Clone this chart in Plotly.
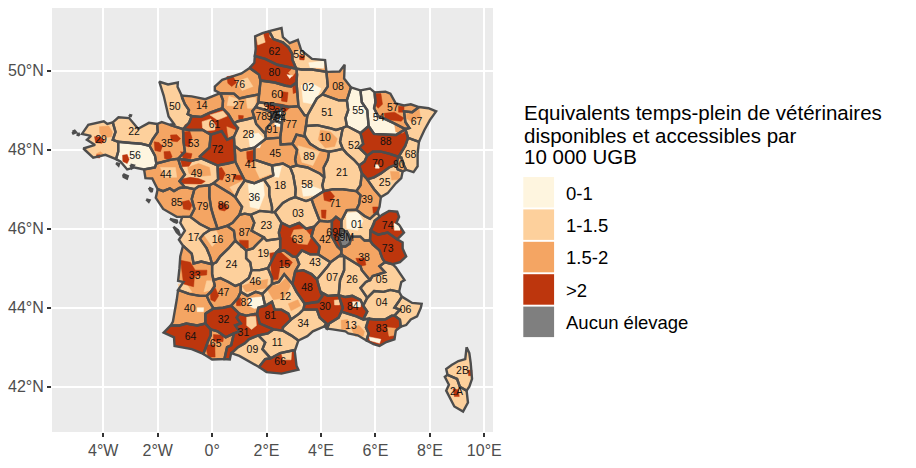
import plotly.graph_objects as go

CLASS_NAMES = ["0-1", "1-1.5", "1.5-2", ">2", "Aucun élevage"]
CLASS_COLORS = ["#FEF5DF", "#FDD09C", "#F4A563", "#BD360D", "#7F7F7F"]
LEGEND_TITLE = ["Equivalents temps-plein de vétérinaires", "disponibles et accessibles par", "10 000 UGB"]
X_TICKS = [-4, -2, 0, 2, 4, 6, 8, 10]
X_LABELS = ["4°W", "2°W", "0°", "2°E", "4°E", "6°E", "8°E", "10°E"]
Y_TICKS = [42, 44, 46, 48, 50]
Y_LABELS = ["42°N", "44°N", "46°N", "48°N", "50°N"]

DEPT_CLASS = {
 "62":3,"59":1,"80":3,"76":2,"02":1,"08":2,"60":2,"27":2,"14":2,"50":1,"22":1,"29":1,"56":0,"35":2,"53":2,"61":3,"72":3,
 "28":1,"78":2,"95":1,"92":1,"75":0,"93":0,"94":0,"91":2,"77":2,"51":1,"55":0,"54":0,"57":2,"67":1,"10":1,"52":1,"88":3,"68":1,"90":2,
 "70":3,"25":1,"39":2,"21":1,"89":2,"45":2,"41":2,"37":2,"49":1,"44":2,"85":2,"79":2,"86":2,"36":1,"18":1,"58":1,"71":2,"03":1,
 "23":1,"87":2,"16":2,"17":1,"24":1,"19":1,"63":3,"42":2,"69D":3,"69M":4,"01":1,"74":3,"73":3,"38":2,"43":1,"15":2,"07":1,"26":1,
 "05":1,"04":1,"06":1,"83":3,"13":1,"84":3,"30":3,"48":3,"12":1,"46":1,"33":2,"40":2,"47":2,"82":2,"81":3,"34":1,"32":3,"31":3,
 "64":3,"65":2,"09":1,"11":1,"66":3,"2B":1,"2A":1,
}

DEPT_POLY = {
"62":[(2.1,51.0),(1.85,50.95),(1.58,50.87),(1.6,50.55),(1.57,50.37),(1.95,50.3),(2.4,50.15),(3.1,50.05),(3.05,50.12),(2.95,50.28),(2.95,50.42),(2.8,50.6),(2.6,50.72),(2.25,50.8)],
"59":[(2.1,51.0),(2.55,51.08),(2.6,50.85),(2.85,50.7),(3.15,50.78),(3.27,50.52),(3.67,50.3),(4.15,50.27),(4.2,49.97),(3.67,50.03),(3.3,50.03),(3.1,50.05),(3.05,50.12),(2.95,50.28),(2.95,50.42),(2.8,50.6),(2.6,50.72),(2.25,50.8)],
"80":[(1.38,50.07),(1.55,50.2),(1.57,50.37),(1.95,50.3),(2.4,50.15),(3.1,50.05),(3.12,49.9),(3.1,49.7),(2.9,49.6),(2.7,49.62),(2.3,49.7),(1.78,49.75),(1.72,49.9)],
"76":[(0.3,49.43),(0.1,49.5),(0.1,49.6),(0.37,49.77),(1.08,49.93),(1.38,50.07),(1.72,49.9),(1.78,49.75),(1.72,49.4),(1.3,49.35),(1.0,49.3),(0.8,49.42)],
"27":[(0.3,49.43),(0.8,49.42),(1.0,49.3),(1.3,49.35),(1.72,49.4),(1.7,49.2),(1.6,49.08),(1.48,48.98),(1.55,48.82),(1.3,48.77),(0.95,48.72),(0.8,48.67),(0.6,48.9),(0.38,49.05),(0.4,49.25)],
"14":[(0.3,49.43),(0.07,49.36),(-0.25,49.28),(-0.75,49.35),(-1.12,49.37),(-1.1,49.3),(-1.0,49.15),(-0.85,49.0),(-0.9,48.9),(-0.75,48.85),(-0.4,48.83),(-0.1,48.93),(0.38,49.05),(0.4,49.25)],
"50":[(-1.12,49.37),(-1.27,49.59),(-1.26,49.7),(-1.62,49.65),(-1.94,49.72),(-1.85,49.5),(-1.78,49.37),(-1.6,48.84),(-1.4,48.65),(-1.55,48.63),(-1.07,48.52),(-0.85,48.68),(-0.75,48.85),(-0.9,48.9),(-0.85,49.0),(-1.0,49.15),(-1.1,49.3)],
"35":[(-1.55,48.63),(-1.85,48.7),(-2.02,48.65),(-2.0,48.45),(-2.2,48.25),(-2.3,48.1),(-2.1,47.85),(-2.05,47.65),(-1.5,47.75),(-1.25,47.77),(-1.0,47.95),(-1.05,48.2),(-1.07,48.52)],
"22":[(-2.02,48.65),(-2.32,48.68),(-2.72,48.53),(-3.05,48.8),(-3.44,48.82),(-3.65,48.69),(-3.55,48.45),(-3.65,48.25),(-3.45,48.2),(-3.0,48.17),(-2.6,48.15),(-2.3,48.1),(-2.2,48.25),(-2.0,48.45)],
"29":[(-3.65,48.69),(-3.85,48.65),(-3.98,48.72),(-4.55,48.63),(-4.78,48.4),(-4.45,48.35),(-4.6,48.25),(-4.3,48.12),(-4.73,48.03),(-4.37,47.8),(-3.92,47.87),(-3.53,47.76),(-3.45,47.95),(-3.45,48.2),(-3.65,48.25),(-3.55,48.45)],
"56":[(-3.53,47.76),(-3.37,47.7),(-3.12,47.5),(-2.85,47.55),(-2.5,47.5),(-2.1,47.55),(-2.05,47.65),(-2.1,47.85),(-2.3,48.1),(-2.6,48.15),(-3.0,48.17),(-3.45,48.2),(-3.45,47.95)],
"44":[(-2.5,47.5),(-2.45,47.28),(-2.2,47.27),(-2.1,47.12),(-2.0,47.0),(-1.8,46.95),(-1.55,47.02),(-1.4,46.95),(-1.2,47.03),(-1.0,47.05),(-1.2,47.2),(-1.0,47.37),(-1.15,47.55),(-1.25,47.77),(-1.5,47.75),(-2.05,47.65),(-2.1,47.55)],
"49":[(-1.25,47.77),(-0.75,47.72),(-0.4,47.78),(0.2,47.6),(0.22,47.25),(0.05,47.15),(-0.1,47.1),(-0.5,47.07),(-0.65,47.0),(-1.0,47.05),(-1.2,47.2),(-1.0,47.37),(-1.15,47.55)],
"53":[(-1.07,48.52),(-0.85,48.5),(-0.35,48.5),(-0.05,48.38),(-0.1,48.05),(-0.45,47.83),(-0.4,47.78),(-0.75,47.72),(-1.25,47.77),(-1.0,47.95),(-1.05,48.2)],
"72":[(-0.05,48.38),(0.35,48.47),(0.55,48.25),(0.8,48.33),(0.82,48.1),(0.85,47.85),(0.85,47.7),(0.6,47.65),(0.2,47.6),(-0.4,47.78),(-0.45,47.83),(-0.1,48.05)],
"61":[(-1.07,48.52),(-0.85,48.68),(-0.75,48.85),(-0.4,48.83),(-0.1,48.93),(0.38,49.05),(0.6,48.9),(0.8,48.67),(0.95,48.55),(0.8,48.33),(0.55,48.25),(0.35,48.47),(-0.05,48.38),(-0.35,48.5),(-0.85,48.5)],
"28":[(0.8,48.67),(0.95,48.72),(1.3,48.77),(1.55,48.82),(1.62,48.65),(1.95,48.4),(1.98,48.28),(1.55,48.05),(1.05,47.98),(0.82,48.1),(0.8,48.33),(0.95,48.55)],
"41":[(0.82,48.1),(1.05,47.98),(1.55,48.05),(1.55,47.75),(2.2,47.6),(2.25,47.35),(1.9,47.25),(1.55,47.15),(1.2,47.22),(1.05,47.42),(0.85,47.7),(0.85,47.85)],
"37":[(0.2,47.6),(0.6,47.65),(0.85,47.7),(1.05,47.42),(1.2,47.22),(0.98,47.0),(0.85,46.8),(0.65,46.9),(0.3,47.05),(0.05,47.15),(0.22,47.25)],
"86":[(0.05,47.15),(0.3,47.05),(0.65,46.9),(0.85,46.8),(1.1,46.55),(1.0,46.35),(0.75,46.15),(0.55,46.07),(0.2,46.0),(0.05,46.3),(-0.03,46.5),(-0.1,46.8),(-0.1,47.1)],
"79":[(-0.1,47.1),(-0.5,47.07),(-0.65,47.0),(-0.75,46.75),(-0.65,46.5),(-0.8,46.3),(-0.45,46.12),(-0.05,45.98),(0.2,46.0),(0.05,46.3),(-0.03,46.5),(-0.1,46.8)],
"85":[(-2.0,47.0),(-2.07,46.78),(-1.8,46.5),(-1.3,46.3),(-1.1,46.3),(-0.8,46.3),(-0.65,46.5),(-0.75,46.75),(-0.65,47.0),(-1.0,47.05),(-1.2,47.03),(-1.4,46.95),(-1.55,47.02),(-1.8,46.95)],
"17":[(-1.1,46.3),(-1.17,46.15),(-1.0,45.95),(-1.22,45.72),(-1.07,45.57),(-0.75,45.37),(-0.68,45.12),(-0.4,45.17),(0.0,45.1),(-0.08,45.3),(-0.2,45.5),(-0.45,45.75),(-0.3,45.87),(-0.05,45.98),(-0.45,46.12),(-0.8,46.3)],
"16":[(-0.05,45.98),(0.2,46.0),(0.55,46.07),(0.8,45.95),(0.85,45.7),(0.6,45.5),(0.3,45.3),(0.15,45.15),(0.0,45.1),(-0.08,45.3),(-0.2,45.5),(-0.45,45.75),(-0.3,45.87)],
"87":[(0.8,45.95),(0.55,46.07),(0.75,46.15),(1.0,46.35),(1.2,46.38),(1.42,46.35),(1.55,46.15),(1.45,45.95),(1.9,45.78),(1.7,45.65),(1.5,45.5),(1.25,45.45),(1.0,45.6),(0.85,45.7)],
"36":[(1.2,47.22),(1.55,47.15),(1.9,47.25),(2.1,47.05),(2.1,46.85),(2.2,46.55),(2.2,46.42),(1.75,46.45),(1.42,46.35),(1.2,46.38),(1.0,46.35),(1.1,46.55),(0.85,46.8),(0.98,47.0)],
"18":[(2.25,47.35),(2.2,47.6),(2.6,47.65),(2.87,47.55),(2.98,47.35),(3.07,47.0),(3.05,46.8),(2.85,46.75),(2.6,46.65),(2.3,46.42),(2.2,46.42),(2.2,46.55),(2.1,46.85),(2.1,47.05),(1.9,47.25)],
"45":[(1.55,48.05),(1.98,48.28),(2.4,48.3),(2.5,48.3),(2.52,48.13),(2.95,48.15),(3.12,48.0),(3.05,47.75),(3.1,47.6),(2.87,47.55),(2.6,47.65),(2.2,47.6),(1.55,47.75)],
"89":[(2.95,48.15),(3.1,48.38),(3.42,48.33),(3.6,48.15),(3.95,48.0),(4.3,47.95),(4.25,47.75),(4.1,47.55),(4.12,47.3),(3.95,47.4),(3.5,47.55),(3.1,47.6),(3.05,47.75),(3.12,48.0)],
"58":[(2.87,47.55),(3.1,47.6),(3.5,47.55),(3.95,47.4),(4.12,47.3),(4.05,47.1),(4.1,46.95),(3.65,46.75),(3.45,46.7),(3.05,46.8),(3.07,47.0),(2.98,47.35)],
"21":[(4.3,47.95),(4.5,47.97),(4.8,48.02),(4.95,47.9),(5.2,47.75),(5.4,47.6),(5.5,47.4),(5.45,47.1),(5.3,46.95),(5.1,46.97),(4.8,47.0),(4.45,47.0),(4.1,46.95),(4.05,47.1),(4.12,47.3),(4.1,47.55),(4.25,47.75)],
"71":[(3.65,46.75),(4.1,46.95),(4.45,47.0),(4.8,47.0),(5.1,46.97),(5.3,46.95),(5.45,46.85),(5.4,46.62),(5.3,46.48),(4.95,46.47),(4.75,46.2),(4.55,46.3),(4.4,46.2),(4.25,46.18),(3.95,46.2),(3.9,46.3),(3.75,46.55)],
"03":[(2.3,46.42),(2.6,46.65),(2.85,46.75),(3.05,46.8),(3.45,46.7),(3.65,46.75),(3.75,46.55),(3.9,46.3),(3.95,46.2),(3.75,46.05),(3.45,46.0),(3.2,46.15),(2.85,46.05),(2.55,46.15)],
"23":[(1.42,46.35),(1.75,46.45),(2.2,46.42),(2.3,46.42),(2.55,46.15),(2.45,45.9),(2.5,45.75),(2.0,45.7),(1.9,45.78),(1.45,45.95),(1.55,46.15)],
"19":[(1.7,45.65),(1.9,45.78),(2.0,45.7),(2.5,45.75),(2.5,45.5),(2.35,45.4),(2.2,45.2),(2.05,45.0),(1.75,44.95),(1.45,44.95),(1.4,45.15),(1.25,45.25),(1.25,45.45),(1.5,45.5)],
"24":[(0.0,45.1),(0.15,45.15),(0.3,45.3),(0.6,45.5),(0.85,45.7),(1.0,45.6),(1.25,45.45),(1.25,45.25),(1.4,45.15),(1.45,44.95),(1.35,44.75),(1.05,44.6),(0.85,44.55),(0.6,44.65),(0.3,44.75),(0.05,44.7),(0.0,44.85)],
"33":[(-1.07,45.57),(-1.17,45.3),(-1.2,45.0),(-1.25,44.68),(-1.05,44.65),(-1.25,44.45),(-0.85,44.35),(-0.45,44.3),(-0.2,44.3),(-0.05,44.4),(0.1,44.55),(0.05,44.7),(0.0,44.85),(0.0,45.1),(-0.4,45.17),(-0.68,45.12),(-0.75,45.37)],
"40":[(-1.25,44.45),(-1.3,44.2),(-1.44,43.65),(-1.52,43.55),(-1.2,43.55),(-0.95,43.6),(-0.55,43.55),(-0.25,43.6),(-0.25,43.85),(0.05,43.98),(-0.1,44.15),(-0.2,44.3),(-0.45,44.3),(-0.85,44.35)],
"47":[(-0.1,44.15),(-0.2,44.3),(-0.05,44.4),(0.1,44.55),(0.05,44.7),(0.3,44.75),(0.6,44.65),(0.85,44.55),(1.05,44.6),(1.05,44.4),(0.95,44.25),(0.7,44.05),(0.4,44.0),(0.05,43.98)],
"46":[(1.05,44.6),(1.35,44.75),(1.45,44.95),(1.75,44.95),(2.05,45.0),(2.2,44.75),(2.2,44.6),(2.05,44.5),(1.85,44.35),(1.6,44.4),(1.3,44.3),(1.05,44.4)],
"82":[(0.7,44.05),(0.95,44.25),(1.05,44.4),(1.3,44.3),(1.6,44.4),(1.85,44.35),(1.95,44.05),(1.7,44.0),(1.65,43.85),(1.25,43.8),(1.0,43.85),(0.85,43.95)],
"81":[(1.65,43.85),(1.7,44.0),(1.95,44.05),(2.2,44.15),(2.3,43.95),(2.55,43.95),(2.8,43.85),(2.9,43.7),(2.6,43.5),(2.6,43.42),(2.25,43.45),(1.75,43.6)],
"31":[(1.25,43.8),(1.65,43.85),(1.75,43.6),(2.25,43.45),(2.05,43.35),(1.7,43.3),(1.5,43.25),(1.35,43.2),(1.2,43.1),(0.95,43.0),(0.75,42.87),(0.7,42.85),(0.65,42.69),(0.45,42.7),(0.55,43.0),(0.7,43.05),(0.75,43.2),(0.8,43.35),(1.0,43.4),(0.85,43.55),(1.05,43.6),(0.9,43.75),(1.0,43.85)],
"32":[(-0.25,43.85),(0.05,43.98),(0.4,44.0),(0.7,44.05),(0.85,43.95),(1.0,43.85),(0.9,43.75),(1.05,43.6),(0.85,43.55),(1.0,43.4),(0.8,43.35),(0.5,43.25),(0.2,43.4),(-0.05,43.45),(-0.25,43.6)],
"64":[(-1.52,43.55),(-1.78,43.37),(-1.4,43.25),(-1.38,43.03),(-0.75,42.95),(-0.32,42.83),(-0.15,43.15),(-0.05,43.3),(-0.05,43.45),(-0.25,43.6),(-0.55,43.55),(-0.95,43.6),(-1.2,43.55)],
"65":[(-0.05,43.45),(0.2,43.4),(0.5,43.25),(0.8,43.35),(0.75,43.2),(0.7,43.05),(0.55,43.0),(0.45,42.7),(0.0,42.69),(-0.32,42.83),(-0.15,43.15),(-0.05,43.3)],
"09":[(0.7,42.85),(0.75,42.87),(0.95,43.0),(1.2,43.1),(1.35,43.2),(1.5,43.25),(1.7,43.3),(1.95,43.12),(1.85,42.95),(2.15,42.72),(1.95,42.7),(1.72,42.5),(1.45,42.6),(1.0,42.78)],
"66":[(1.72,42.5),(1.95,42.7),(2.15,42.72),(2.5,42.85),(3.03,42.93),(3.05,42.8),(3.1,42.53),(3.17,42.43),(2.55,42.33),(2.0,42.37)],
"11":[(1.7,43.3),(2.05,43.35),(2.25,43.45),(2.6,43.42),(2.9,43.3),(3.17,43.17),(3.05,42.93),(3.03,42.93),(2.5,42.85),(2.15,42.72),(1.85,42.95),(1.95,43.12)],
"34":[(3.17,43.17),(3.5,43.28),(3.7,43.4),(4.13,43.53),(4.2,43.6),(3.95,43.75),(3.85,43.95),(3.35,43.95),(3.2,43.85),(2.9,43.7),(2.6,43.5),(2.6,43.42),(2.9,43.3)],
"12":[(1.85,44.35),(2.05,44.5),(2.2,44.6),(2.45,44.65),(2.65,44.85),(2.95,44.6),(3.1,44.4),(3.3,44.2),(3.4,44.1),(3.35,43.95),(3.2,43.85),(2.9,43.7),(2.8,43.85),(2.55,43.95),(2.3,43.95),(2.2,44.15),(1.95,44.05)],
"15":[(2.05,45.0),(2.2,45.2),(2.35,45.4),(2.65,45.45),(2.95,45.3),(3.1,45.28),(3.2,45.1),(3.05,44.92),(2.95,44.6),(2.65,44.85),(2.45,44.65),(2.2,44.6),(2.2,44.75)],
"48":[(3.05,44.92),(3.35,44.95),(3.65,44.85),(3.85,44.72),(3.98,44.4),(4.05,44.3),(3.9,44.15),(3.4,44.1),(3.3,44.2),(3.1,44.4),(2.95,44.6)],
"63":[(2.45,45.9),(2.55,46.15),(2.85,46.05),(3.2,46.15),(3.45,46.0),(3.75,46.05),(3.65,45.8),(3.95,45.55),(3.9,45.35),(3.6,45.35),(3.3,45.45),(3.1,45.28),(2.95,45.3),(2.65,45.45),(2.35,45.4),(2.5,45.5),(2.5,45.75)],
"42":[(3.75,46.05),(3.95,46.2),(4.25,46.18),(4.4,46.2),(4.4,45.95),(4.4,45.8),(4.6,45.55),(4.75,45.45),(4.75,45.37),(4.65,45.3),(4.45,45.2),(4.35,45.15),(3.9,45.35),(3.95,45.55),(3.65,45.8)],
"69D":[(4.4,46.2),(4.55,46.3),(4.75,46.2),(4.75,45.95),(4.65,45.75),(4.75,45.55),(4.75,45.45),(4.6,45.55),(4.4,45.8),(4.4,45.95)],
"69M":[(4.75,45.95),(4.95,45.93),(5.1,45.75),(5.05,45.62),(4.9,45.55),(4.75,45.55),(4.65,45.75)],
"01":[(4.75,46.2),(4.95,46.47),(5.3,46.48),(5.6,46.32),(5.8,46.25),(6.07,46.42),(6.15,46.3),(5.97,46.2),(5.95,46.13),(5.82,45.95),(5.8,45.7),(5.6,45.7),(5.45,45.8),(5.15,45.8),(5.1,45.75),(4.95,45.93),(4.75,45.95)],
"39":[(5.3,46.95),(5.45,47.1),(5.5,47.4),(5.7,47.25),(5.95,47.0),(6.2,46.8),(6.15,46.55),(6.07,46.42),(5.8,46.25),(5.6,46.32),(5.3,46.48),(5.4,46.62),(5.45,46.85)],
"38":[(5.1,45.75),(5.15,45.8),(5.45,45.8),(5.6,45.7),(5.8,45.7),(5.9,45.6),(6.15,45.45),(6.25,45.25),(6.35,45.15),(6.15,45.05),(6.35,44.9),(5.9,44.8),(5.8,44.7),(5.5,44.95),(5.45,45.05),(5.2,45.15),(4.85,45.3),(4.75,45.37),(4.75,45.45),(4.75,45.55),(4.9,45.55),(5.05,45.62)],
"73":[(5.8,45.7),(5.82,45.95),(6.1,45.85),(6.45,45.9),(6.8,45.73),(7.0,45.65),(7.0,45.5),(7.13,45.3),(6.9,45.15),(6.63,45.1),(6.35,45.15),(6.25,45.25),(6.15,45.45),(5.9,45.6)],
"74":[(5.82,45.95),(5.95,46.13),(5.97,46.2),(6.15,46.3),(6.25,46.35),(6.5,46.45),(6.8,46.43),(6.87,46.3),(6.77,46.15),(6.87,46.1),(7.05,45.9),(6.8,45.73),(6.45,45.9),(6.1,45.85)],
"05":[(6.35,45.15),(6.63,45.1),(6.75,45.02),(7.07,44.7),(6.95,44.65),(6.87,44.4),(6.55,44.45),(6.3,44.4),(5.95,44.42),(5.7,44.25),(5.45,44.5),(5.65,44.65),(5.8,44.7),(5.9,44.8),(6.35,44.9),(6.15,45.05)],
"04":[(5.7,44.25),(5.95,44.42),(6.3,44.4),(6.55,44.45),(6.87,44.4),(6.97,44.28),(6.85,44.15),(6.7,44.0),(6.9,43.95),(6.7,43.8),(6.6,43.8),(6.35,43.7),(6.0,43.7),(5.75,43.72),(5.55,43.7),(5.7,43.9),(5.55,44.05)],
"06":[(6.97,44.28),(7.35,44.12),(7.7,44.1),(7.67,44.0),(7.53,43.78),(7.3,43.7),(7.13,43.56),(6.93,43.52),(6.9,43.7),(6.7,43.8),(6.9,43.95),(6.7,44.0),(6.85,44.15)],
"83":[(5.75,43.72),(6.0,43.7),(6.35,43.7),(6.6,43.8),(6.7,43.8),(6.9,43.7),(6.93,43.52),(6.75,43.42),(6.7,43.2),(6.4,43.13),(6.15,43.03),(5.93,43.08),(5.67,43.17),(5.75,43.35),(5.65,43.5)],
"13":[(4.3,43.6),(4.65,43.75),(4.75,43.9),(5.3,43.78),(5.55,43.7),(5.75,43.72),(5.65,43.5),(5.75,43.35),(5.67,43.17),(5.35,43.3),(5.0,43.35),(4.9,43.4),(4.43,43.45),(4.22,43.47)],
"30":[(3.35,43.95),(3.4,44.1),(3.9,44.15),(4.05,44.3),(3.98,44.4),(4.25,44.3),(4.65,44.32),(4.7,44.2),(4.8,44.0),(4.75,43.9),(4.65,43.75),(4.3,43.6),(4.22,43.47),(4.13,43.53),(4.2,43.6),(3.95,43.75),(3.85,43.95)],
"07":[(3.98,44.4),(3.85,44.72),(4.25,45.05),(4.35,45.15),(4.45,45.2),(4.65,45.3),(4.85,45.3),(4.85,44.95),(4.7,44.7),(4.65,44.32),(4.25,44.3)],
"43":[(3.1,45.28),(3.3,45.45),(3.6,45.35),(3.9,45.35),(4.35,45.15),(4.25,45.05),(3.85,44.72),(3.65,44.85),(3.35,44.95),(3.05,44.92),(3.2,45.1)],
"26":[(4.85,45.3),(5.2,45.15),(5.45,45.05),(5.5,44.95),(5.8,44.7),(5.65,44.65),(5.45,44.5),(5.7,44.25),(5.55,44.05),(5.45,44.2),(5.15,44.3),(4.9,44.27),(4.65,44.32),(4.7,44.7),(4.85,44.95)],
"84":[(4.65,44.32),(4.9,44.27),(5.15,44.3),(5.45,44.2),(5.55,44.05),(5.7,43.9),(5.55,43.7),(5.3,43.78),(4.75,43.9),(4.8,44.0),(4.7,44.2)],
"02":[(3.1,50.05),(3.3,50.03),(3.67,50.03),(4.2,49.97),(4.25,49.6),(4.05,49.4),(3.85,49.3),(3.65,49.05),(3.5,48.87),(3.4,48.87),(3.17,49.1),(3.15,49.3),(3.1,49.7),(3.12,49.9)],
"60":[(1.78,49.75),(2.3,49.7),(2.7,49.62),(2.9,49.6),(3.1,49.7),(3.15,49.3),(3.17,49.1),(2.8,49.08),(2.55,49.12),(2.3,49.15),(1.7,49.2),(1.72,49.4)],
"95":[(1.7,49.2),(2.3,49.15),(2.55,49.12),(2.55,49.0),(2.3,48.95),(2.2,48.9),(2.1,48.98),(1.6,49.08)],
"78":[(1.6,49.08),(2.1,48.98),(2.2,48.9),(2.15,48.75),(2.2,48.7),(2.0,48.55),(1.95,48.4),(1.62,48.65),(1.55,48.82),(1.48,48.98)],
"92":[(2.2,48.9),(2.3,48.95),(2.32,48.9),(2.25,48.83),(2.32,48.82),(2.3,48.73),(2.2,48.7),(2.15,48.75)],
"75":[(2.25,48.9),(2.32,48.9),(2.42,48.88),(2.42,48.84),(2.32,48.82),(2.25,48.83)],
"93":[(2.3,48.95),(2.55,49.0),(2.6,48.9),(2.55,48.85),(2.42,48.88),(2.32,48.9)],
"94":[(2.32,48.82),(2.42,48.84),(2.55,48.85),(2.6,48.8),(2.55,48.68),(2.35,48.72),(2.3,48.73)],
"91":[(1.95,48.4),(2.0,48.55),(2.2,48.7),(2.3,48.73),(2.35,48.72),(2.55,48.68),(2.55,48.55),(2.5,48.3),(2.4,48.3),(1.98,48.28)],
"77":[(2.55,49.12),(2.8,49.08),(3.17,49.1),(3.4,48.87),(3.5,48.87),(3.45,48.6),(3.4,48.4),(3.42,48.33),(3.1,48.38),(2.95,48.15),(2.52,48.13),(2.5,48.3),(2.55,48.55),(2.55,48.68),(2.6,48.8),(2.55,48.85),(2.6,48.9),(2.55,49.0)],
"08":[(4.2,49.97),(4.68,49.98),(4.87,50.15),(4.85,49.8),(5.1,49.58),(5.0,49.35),(4.95,49.25),(4.65,49.25),(4.05,49.4),(4.25,49.6)],
"51":[(4.05,49.4),(4.65,49.25),(4.95,49.25),(5.0,49.0),(4.9,48.8),(4.95,48.6),(4.8,48.55),(4.55,48.5),(4.3,48.55),(3.85,48.62),(3.45,48.6),(3.5,48.87),(3.65,49.05),(3.85,49.3)],
"55":[(5.1,49.58),(5.45,49.5),(5.5,49.2),(5.7,49.0),(5.75,48.6),(5.45,48.42),(4.95,48.6),(4.9,48.8),(5.0,49.0),(4.95,49.25),(5.0,49.35)],
"54":[(5.45,49.5),(5.8,49.55),(5.97,49.45),(6.0,49.2),(5.95,49.05),(6.1,48.85),(6.3,48.8),(6.6,48.7),(7.1,48.52),(6.75,48.37),(6.3,48.38),(5.95,48.4),(5.75,48.6),(5.7,49.0),(5.5,49.2)],
"57":[(5.97,49.45),(6.37,49.47),(6.55,49.42),(6.75,49.17),(7.05,49.12),(7.3,49.15),(7.6,49.08),(7.35,48.95),(7.05,48.97),(7.1,48.7),(7.25,48.55),(7.1,48.52),(6.6,48.7),(6.3,48.8),(6.1,48.85),(5.95,49.05),(6.0,49.2)],
"67":[(7.6,49.08),(7.95,49.05),(8.23,48.97),(8.0,48.75),(7.8,48.5),(7.6,48.2),(7.2,48.3),(7.1,48.52),(7.25,48.55),(7.1,48.7),(7.05,48.97),(7.35,48.95)],
"68":[(7.2,48.3),(7.6,48.2),(7.55,47.9),(7.55,47.58),(7.4,47.43),(7.13,47.49),(7.05,47.6),(6.95,47.8),(6.85,47.82),(7.0,48.0),(7.1,48.1)],
"90":[(6.85,47.82),(6.95,47.8),(7.05,47.6),(7.13,47.49),(7.0,47.45),(6.82,47.5),(6.75,47.62)],
"88":[(5.45,48.42),(5.75,48.6),(5.95,48.4),(6.3,48.38),(6.75,48.37),(7.1,48.52),(7.2,48.3),(7.1,48.1),(7.0,48.0),(6.85,47.82),(6.5,47.9),(6.2,47.95),(5.9,47.95),(5.7,47.85),(5.4,48.05),(5.55,48.15)],
"52":[(4.95,48.6),(5.45,48.42),(5.55,48.15),(5.4,48.05),(5.7,47.85),(5.6,47.7),(5.4,47.6),(5.2,47.75),(4.95,47.9),(4.8,48.02),(4.7,48.2),(4.8,48.55)],
"10":[(3.45,48.6),(3.85,48.62),(4.3,48.55),(4.55,48.5),(4.8,48.55),(4.7,48.2),(4.8,48.02),(4.5,47.97),(4.3,47.95),(3.95,48.0),(3.6,48.15),(3.42,48.33),(3.4,48.4)],
"70":[(5.4,47.6),(5.6,47.7),(5.7,47.85),(5.9,47.95),(6.2,47.95),(6.5,47.9),(6.85,47.82),(6.75,47.62),(6.5,47.55),(6.2,47.4),(5.95,47.3),(5.7,47.25),(5.5,47.4)],
"25":[(5.7,47.25),(5.95,47.3),(6.2,47.4),(6.5,47.55),(6.75,47.62),(6.82,47.5),(7.0,47.45),(6.95,47.28),(6.75,47.15),(6.45,46.9),(6.2,46.8),(5.95,47.0)],
"2B":[(9.35,43.0),(9.45,42.85),(9.5,42.6),(9.55,42.2),(9.45,42.0),(9.35,41.9),(9.1,42.0),(9.0,42.2),(8.65,42.3),(8.6,42.45),(8.8,42.55),(9.05,42.65),(9.3,42.7),(9.32,42.95)],
"2A":[(8.65,42.3),(9.0,42.2),(9.1,42.0),(9.35,41.9),(9.4,41.6),(9.22,41.37),(8.9,41.5),(8.75,41.7),(8.6,41.9),(8.7,42.05),(8.55,42.25)],
}

ISLANDS_CLASS1 = [
 [(-5.13,48.45),(-5.05,48.48),(-5.0,48.44),(-5.1,48.41)],
 [(-4.98,48.38),(-4.9,48.4),(-4.88,48.36)],
 [(-3.27,47.38),(-3.1,47.33),(-3.13,47.27),(-3.25,47.31)],
 [(-3.53,47.66),(-3.42,47.64),(-3.44,47.6)],
 [(-2.32,47.04),(-2.2,47.0),(-2.22,46.93),(-2.28,46.97)],
 [(-2.42,46.74),(-2.3,46.72),(-2.33,46.68)],
 [(-1.55,46.25),(-1.3,46.21),(-1.28,46.15),(-1.4,46.18)],
 [(-1.42,46.05),(-1.25,45.96),(-1.18,45.83),(-1.3,45.91)],
 [(-3.0,47.62),(-2.88,47.6),(-2.95,47.54)],
 [(-3.05,48.88),(-2.98,48.87),(-3.0,48.83)],
]

PATCHES_15 = [
 [(-4.14,48.58),(-3.8,48.6),(-3.66,48.45),(-3.7,48.33),(-4.0,48.3),(-4.13,48.42)],
 [(-4.25,47.9),(-4.1,47.95),(-3.98,47.88),(-4.15,47.83)],
 [(3.0,45.97),(3.4,46.0),(3.64,45.8),(3.5,45.6),(3.15,45.62),(2.9,45.8)],
 [(2.7,45.42),(2.95,45.28),(3.12,45.25),(3.05,45.02),(2.75,45.1),(2.55,45.28)],
 [(3.98,48.5),(4.35,48.45),(4.6,48.28),(4.5,48.08),(4.15,48.05),(3.9,48.25)],
 [(1.1,44.55),(1.5,44.65),(2.05,44.72),(2.0,44.5),(1.6,44.45),(1.25,44.4)],
 [(4.74,43.68),(4.98,43.7),(5.0,43.45),(4.75,43.45)],
 [(5.1,43.5),(5.4,43.55),(5.6,43.4),(5.55,43.28),(5.25,43.28)],
 [(1.95,44.55),(2.45,44.58),(2.75,44.78),(2.88,44.55),(2.65,44.25),(2.25,44.2)],
 [(2.8,44.1),(3.15,44.2),(3.25,44.05),(2.9,43.92)],
 [(2.8,49.95),(3.05,50.12),(3.1,50.0),(2.95,49.85)],
 [(2.79,50.65),(3.1,50.77),(3.2,50.55),(3.0,50.45),(2.85,50.5)],
 [(3.7,50.1),(4.12,50.22),(4.15,50.0),(3.8,50.05)],
 [(6.55,47.45),(6.87,47.44),(6.9,47.25),(6.6,47.23)],
 [(7.17,49.0),(7.6,49.05),(7.66,48.8),(7.3,48.72),(7.12,48.8)],
 [(6.68,48.72),(7.08,48.55),(7.23,48.58),(7.0,48.42),(6.75,48.45)],
 [(0.54,48.58),(0.85,48.5),(0.85,48.33),(0.6,48.3)],
 [(-0.9,47.55),(-0.5,47.65),(-0.1,47.55),(-0.05,47.35),(-0.5,47.32),(-0.85,47.4)],
 [(6.44,43.5),(6.74,43.48),(6.72,43.3),(6.5,43.28)],
 [(0.05,45.2),(0.2,45.25),(0.25,45.35)],
 [(-0.02,44.9),(-0.45,44.9),(-0.55,45.1),(-0.1,45.1)],
 [(1.05,46.0),(1.5,46.1),(1.42,45.95),(1.1,45.9)],
 [(4.95,45.5),(5.3,45.2),(5.7,45.45),(5.55,45.62),(5.1,45.7)],
 [(4.62,49.45),(4.9,49.3),(4.75,49.28)],
]
PATCHES_1 = [
 [(-0.37,48.71),(-0.05,48.78),(0.12,48.62),(0.1,48.5),(-0.2,48.48),(-0.35,48.55)],
 [(-0.08,48.88),(0.4,48.98),(0.55,48.85),(0.2,48.75)],
 [(2.12,51.0),(2.28,50.95),(2.49,50.8),(2.3,50.78),(2.12,50.85)],
 [(1.62,50.85),(1.88,50.92),(1.95,50.72),(1.68,50.65)],
 [(0.88,49.72),(1.3,49.82),(1.5,49.6),(1.1,49.5)],
 [(0.62,49.35),(0.95,49.28),(0.9,49.1),(0.55,49.12)],
 [(1.25,49.3),(1.6,49.32),(1.6,49.05),(1.3,49.05)],
 [(3.15,48.1),(3.95,47.95),(3.7,47.6),(3.3,47.68)],
 [(-0.35,45.9),(0.15,45.95),(0.3,45.75),(0.0,45.55)],
 [(1.6,47.75),(2.15,47.62),(2.2,47.4),(1.75,47.28),(1.6,47.5)],
 [(0.65,47.05),(1.1,47.2),(0.95,47.0),(0.85,46.85)],
 [(3.45,50.35),(3.9,50.25),(3.95,50.1),(3.5,50.1)],
 [(-1.9,47.55),(-1.35,47.55),(-1.3,47.3),(-1.75,47.3)],
 [(5.25,43.75),(5.55,43.68),(5.3,43.55)],
 [(-1.25,44.6),(-0.95,44.62),(-0.75,44.4),(-1.2,44.45)],
 [(-0.2,44.68),(0.05,44.68),(-0.05,44.45),(-0.3,44.4)],
 [(3.5,45.3),(4.1,45.3),(4.0,45.1),(3.6,45.05)],
]
PATCHES_GT2 = [
 [(-1.04,48.45),(-0.82,48.47),(-0.74,48.3),(-0.85,48.07),(-1.0,48.1),(-1.02,48.3)],
 [(-1.16,47.95),(-0.95,47.92),(-0.74,47.9),(-0.78,47.78),(-1.05,47.76)],
 [(-1.16,47.74),(-0.95,47.72),(-0.74,47.7),(-0.85,47.58),(-1.1,47.57)],
 [(-1.16,47.25),(-0.8,47.3),(-0.5,47.27),(-0.25,47.2),(-0.4,47.13),(-0.85,47.14),(-1.12,47.14)],
 [(0.18,47.52),(0.35,47.55),(0.48,47.4),(0.38,47.23),(0.22,47.25)],
 [(0.78,47.36),(1.05,47.35),(1.21,47.27),(1.0,47.23),(0.8,47.26)],
 [(1.27,47.95),(1.5,47.98),(1.51,47.72),(1.35,47.65),(1.28,47.78)],
 [(0.54,49.85),(0.75,49.87),(0.9,49.7),(0.72,49.6),(0.58,49.68)],
 [(0.97,48.87),(1.15,48.86),(1.13,48.76),(0.98,48.77)],
 [(-1.0,48.63),(-0.88,48.65),(-0.9,48.52),(-1.02,48.54)],
 [(-4.32,48.33),(-4.1,48.32),(-3.96,48.24),(-4.05,48.16),(-4.28,48.18)],
 [(-4.25,47.87),(-4.12,47.87),(-4.13,47.79),(-4.24,47.8)],
 [(-2.13,48.2),(-1.95,48.18),(-1.83,48.08),(-1.9,47.95),(-2.1,47.98)],
 [(-1.77,47.95),(-1.55,47.96),(-1.47,47.82),(-1.55,47.74),(-1.75,47.78)],
 [(-1.53,48.37),(-1.3,48.38),(-1.16,48.28),(-1.28,48.2),(-1.5,48.22)],
 [(-3.29,47.86),(-3.12,47.88),(-3.05,47.75),(-3.12,47.65),(-3.28,47.7)],
 [(-1.1,46.68),(-0.85,46.72),(-0.74,46.6),(-0.82,46.47),(-1.05,46.5)],
 [(0.24,46.64),(0.45,46.65),(0.6,46.52),(0.45,46.45),(0.26,46.48)],
 [(3.2,50.39),(3.4,50.38),(3.38,50.27),(3.22,50.28)],
 [(5.95,49.42),(6.2,49.42),(6.26,49.15),(6.1,49.05),(5.98,49.15)],
 [(6.32,48.92),(6.7,48.95),(7.05,48.8),(6.95,48.72),(6.55,48.75),(6.35,48.8)],
 [(6.85,49.1),(7.05,49.1),(7.05,48.95),(6.85,48.95)],
 [(4.07,46.98),(4.3,46.98),(4.5,46.82),(4.35,46.68),(4.12,46.72)],
 [(4.01,46.47),(4.19,46.47),(4.17,46.26),(4.03,46.28)],
 [(2.55,49.47),(2.79,49.45),(2.75,49.21),(2.55,49.23)],
 [(2.95,49.68),(3.08,49.68),(3.1,49.45),(2.98,49.42)],
 [(1.94,49.17),(2.5,49.16),(2.9,49.1),(2.7,48.96),(2.1,49.0)],
 [(5.9,46.55),(6.14,46.55),(6.12,46.39),(5.92,46.39)],
 [(-1.16,45.2),(-0.8,45.15),(-0.62,44.95),(-0.19,44.95),(-0.2,44.83),(-0.65,44.8),(-0.68,44.53),(-1.05,44.6)],
 [(-0.07,44.41),(0.12,44.5),(0.24,44.3),(0.1,44.15),(-0.05,44.2)],
 [(2.12,45.38),(2.5,45.42),(2.95,45.15),(2.85,45.05),(2.5,45.05),(2.42,44.72),(2.2,44.7)],
 [(5.28,45.25),(5.6,45.25),(5.65,45.08),(5.4,45.04)],
 [(8.85,41.95),(9.05,41.92),(9.08,41.75),(8.9,41.75)],
 [(9.4,42.42),(9.55,42.42),(9.54,42.28),(9.42,42.28)],
 [(-0.25,43.06),(0.1,43.06),(0.11,42.75),(-0.15,42.75)],
 [(0.05,43.32),(0.42,43.3),(0.4,43.14),(0.05,43.15)],
 [(1.0,45.71),(1.33,45.7),(1.33,45.5),(1.05,45.52)],
 [(0.88,44.2),(1.05,44.25),(1.05,44.05),(0.9,44.05)],
]
PATCHES_LIGHT_ON_DARK = [
 [(1.27,43.77),(1.6,43.78),(1.63,43.55),(1.45,43.45),(1.27,43.55)],
 [(2.55,42.85),(2.92,42.88),(2.9,42.68),(2.6,42.68)],
 [(4.49,44.19),(4.68,44.2),(4.68,44.07),(4.5,44.07)],
]
PATCHES_0 = [
 [(1.33,48.37),(1.7,48.42),(1.88,48.3),(1.75,48.05),(1.4,48.05)],
 [(1.33,47.12),(1.88,47.18),(1.92,46.85),(1.72,46.5),(1.4,46.55)],
 [(2.2,47.55),(2.55,47.58),(2.45,47.3),(2.2,47.32)],
 [(3.28,47.1),(3.65,47.08),(4.05,46.98),(3.95,46.85),(3.35,46.82)],
 [(4.92,46.39),(5.35,46.42),(5.55,46.2),(5.35,45.96),(4.95,46.0)],
 [(-0.55,44.0),(-0.31,44.0),(-0.32,43.9),(-0.55,43.9)],
 [(5.77,43.26),(6.2,43.2),(6.15,43.1),(5.8,43.17)],
 [(1.33,44.24),(1.88,44.28),(1.9,44.03),(1.55,43.98),(1.35,44.05)],
 [(5.16,44.15),(5.47,44.15),(5.45,44.02),(5.18,44.02)],
 [(6.0,47.62),(6.14,47.62),(6.14,47.53),(6.0,47.53)],
 [(2.3,48.8),(2.55,48.82),(2.52,48.58),(2.3,48.6)],
 [(3.28,49.63),(3.6,49.7),(4.0,49.55),(3.75,49.15),(3.35,49.2)],
 [(3.55,50.2),(4.13,50.25),(4.1,50.06),(3.6,50.08)],
 [(2.75,49.9),(2.95,49.88),(2.85,49.8)],
 [(6.68,46.13),(6.93,46.13),(6.9,45.96),(6.7,45.96)],
]

LABEL_CODES = ["62","59","80","76","02","08","60","27","14","50","51","55","57","54","67","22","29","56","35","53","61","72","28","78","95","92","75","93","94","91","77","10","52","88","68","90","70","25","39","21","89","45","41","37","49","44","85","79","86","36","18","58","71","03","23","87","16","17","24","19","63","42","69D","69M","01","74","73","38","43","15","07","26","05","04","06","83","13","84","30","48","12","46","33","40","47","82","81","34","32","31","64","65","09","11","66","2B","2A"]
LABEL_LON = [2.29,3.2,2.29,1.0,3.53,4.63,2.39,0.97,-0.38,-1.37,4.22,5.36,6.64,6.12,7.51,-2.87,-4.08,-2.83,-1.66,-0.68,0.09,0.2,1.33,1.81,2.1,2.21,2.32,2.5,2.5,2.21,2.91,4.15,5.21,6.38,7.29,6.86,6.09,6.34,5.69,4.77,3.56,2.32,1.41,0.68,-0.57,-1.7,-1.3,-0.35,0.42,1.55,2.5,3.49,4.52,3.16,1.99,1.19,0.2,-0.68,0.71,1.88,3.13,4.15,4.55,4.84,5.32,6.45,6.45,5.58,3.78,2.65,4.41,5.14,6.23,6.23,7.11,6.23,5.1,5.17,4.15,3.49,2.69,1.59,-0.64,-0.82,0.42,1.26,2.14,3.35,0.42,1.15,-0.79,0.13,1.48,2.39,2.5,9.2,8.98]
LABEL_LAT = [50.46,50.38,49.93,49.63,49.55,49.58,49.37,49.1,49.1,49.07,48.92,48.97,49.05,48.79,48.69,48.44,48.24,47.83,48.14,48.14,48.62,47.98,48.36,48.82,49.07,48.82,48.84,48.92,48.77,48.49,48.62,48.29,48.09,48.19,47.86,47.61,47.63,47.15,46.72,47.4,47.81,47.88,47.61,47.25,47.38,47.35,46.65,46.55,46.57,46.77,47.08,47.1,46.62,46.37,46.07,45.89,45.71,45.76,45.08,45.36,45.71,45.71,45.89,45.76,46.09,46.07,45.48,45.26,45.11,45.06,44.75,44.68,44.68,44.1,43.94,43.44,43.52,44.0,44.0,44.5,44.27,44.63,44.8,43.97,44.37,44.1,43.79,43.57,43.67,43.34,43.26,43.06,42.91,43.09,42.61,42.38,41.85]


def flatten(polys):
    xs, ys = [], []
    for poly in polys:
        for lon, lat in list(poly) + [poly[0]]:
            xs.append(lon)
            ys.append(lat)
        xs.append(None)
        ys.append(None)
    return xs, ys


fig = go.Figure()
LINE = "#4D4D4D"
for i, color in enumerate(CLASS_COLORS):
    polys = [p for k, p in DEPT_POLY.items() if DEPT_CLASS[k] == i]
    x, y = flatten(polys)
    fig.add_trace(go.Scatter(x=x, y=y, mode="lines", fill="toself", fillcolor=color,
                             line=dict(width=0.5, color=color), hoverinfo="skip", showlegend=False))
for polys, idx in [(PATCHES_15, 2), (PATCHES_1, 1), (PATCHES_GT2, 3), (PATCHES_LIGHT_ON_DARK, 1), (PATCHES_0, 0)]:
    x, y = flatten(polys)
    fig.add_trace(go.Scatter(x=x, y=y, mode="lines", fill="toself", fillcolor=CLASS_COLORS[idx],
                             line=dict(width=0.5, color=CLASS_COLORS[idx]),
                             hoverinfo="skip", showlegend=False))
x, y = flatten(list(DEPT_POLY.values()) + ISLANDS_CLASS1)
fig.add_trace(go.Scatter(x=x, y=y, mode="lines", line=dict(width=2.4, color=LINE),
                         hoverinfo="skip", showlegend=False))
fig.add_trace(go.Scatter(x=LABEL_LON, y=LABEL_LAT, mode="text", text=LABEL_CODES,
                         textfont=dict(family="Liberation Sans", size=10.5, color="#111111"),
                         textposition="middle center", hoverinfo="skip", showlegend=False))

W, H = 916, 468
L, R, T, B = 49, 493, 8, 432


def px(v):
    return (v - L) / (R - L)


def py(v):
    return (B - v) / (B - T)


shapes, annots = [], []
for i, line in enumerate(LEGEND_TITLE):
    annots.append(dict(x=px(522), y=py(113 + i * 22), xref="paper", yref="paper", text=line, showarrow=False,
                       xanchor="left", yanchor="middle", font=dict(family="Liberation Sans", size=20.5, color="#000000")))
for i, (name, color) in enumerate(zip(CLASS_NAMES, CLASS_COLORS)):
    top = 177 + i * 32.4
    shapes.append(dict(type="rect", xref="paper", yref="paper", x0=px(523.5), x1=px(554.5), y0=py(top), y1=py(top + 30.5),
                       fillcolor=color, line=dict(width=0), layer="above"))
    annots.append(dict(x=px(564), y=py(top + 16), xref="paper", yref="paper", text=name, showarrow=False,
                       xanchor="left", yanchor="middle", font=dict(family="Liberation Sans", size=18.5, color="#000000")))

fig.update_layout(
    width=W, height=H, autosize=False, margin=dict(l=L, r=W - R, t=T, b=H - B, pad=0),
    plot_bgcolor="#EBEBEB", paper_bgcolor="#FFFFFF", showlegend=False, shapes=shapes, annotations=annots,
    xaxis=dict(range=[-5.883, 10.32], tickmode="array", tickvals=X_TICKS, ticktext=X_LABELS, showgrid=True,
               gridcolor="#FFFFFF", gridwidth=2, zeroline=False, ticks="outside", ticklen=4, tickwidth=1.5,
               tickcolor="#333333", tickfont=dict(family="Liberation Sans", size=16, color="#4D4D4D"), showline=False),
    yaxis=dict(range=[40.853, 51.587], tickmode="array", tickvals=Y_TICKS, ticktext=Y_LABELS, showgrid=True,
               gridcolor="#FFFFFF", gridwidth=2, zeroline=False, ticks="outside", ticklen=4, tickwidth=1.5,
               tickcolor="#333333", tickfont=dict(family="Liberation Sans", size=16, color="#4D4D4D"), showline=False),
)
fig.write_html("out.html", post_script="document.body.style.margin='0';", config=dict(displayModeBar=False))
